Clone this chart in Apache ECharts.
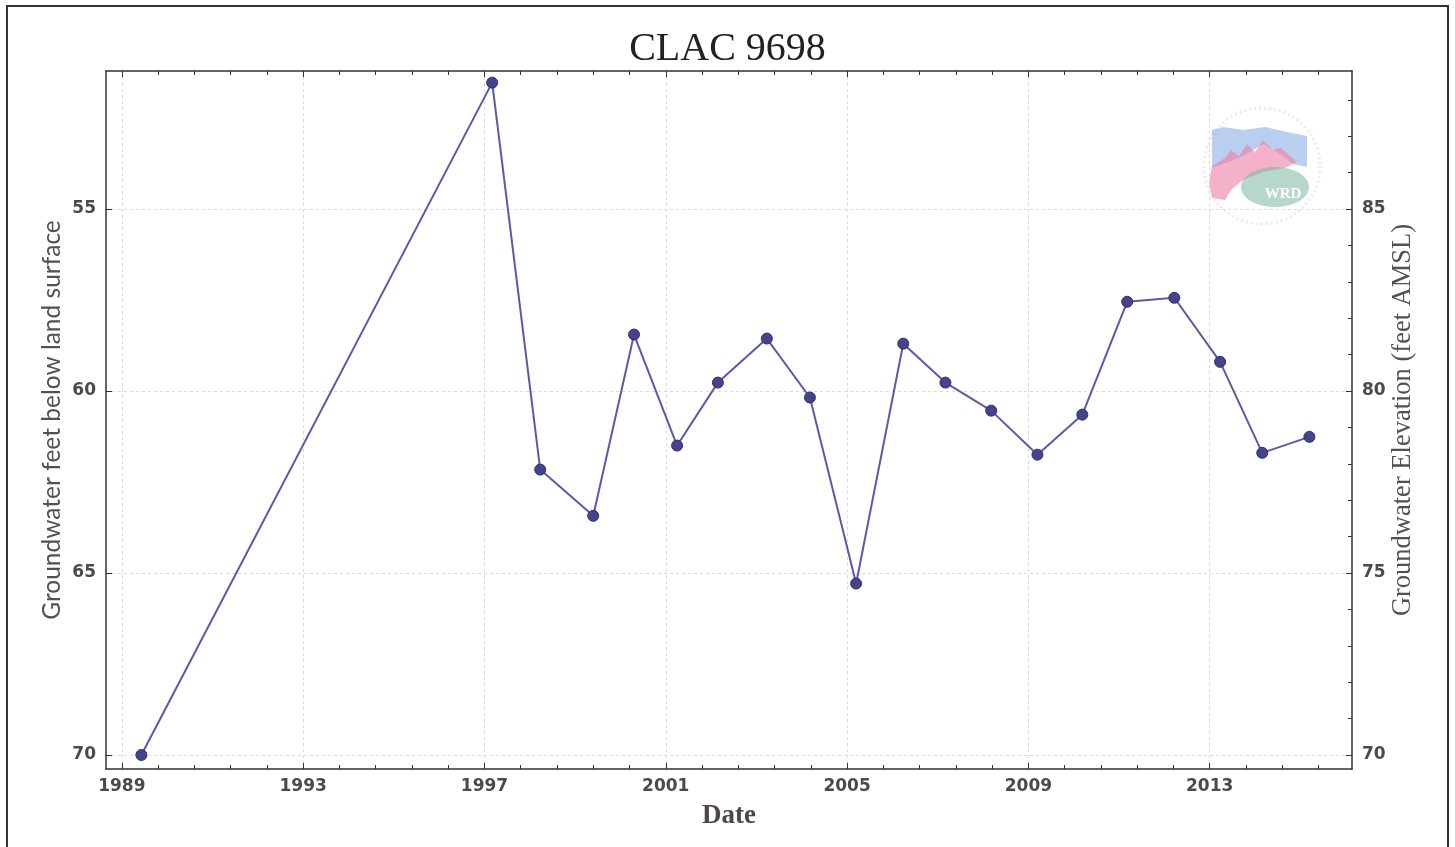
<!DOCTYPE html>
<html>
<head>
<meta charset="utf-8">
<title>CLAC 9698</title>
<script src="https://cdn.jsdelivr.net/npm/echarts@6/dist/echarts.min.js"></script>
<style>
  html, body { margin: 0; padding: 0; background: #ffffff; }
  #chart { width: 1455px; height: 847px; }
</style>
</head>
<body>
<div id="chart"></div>
<script>
// Measurement dates (decimal years) and depth to water (feet below land surface)
const measureDates = [1989.43, 1997.17, 1998.23, 1999.40, 2000.30, 2001.25, 2002.15, 2003.23, 2004.18, 2005.20,
                      2006.24, 2007.17, 2008.18, 2009.20, 2010.19, 2011.18, 2012.22, 2013.23, 2014.16, 2015.20];
const depthFeet    = [70.00, 51.53, 62.16, 63.43, 58.45, 61.50, 59.77, 58.56, 60.18, 65.29,
                      58.70, 59.77, 60.54, 61.75, 60.65, 57.55, 57.44, 59.20, 61.70, 61.26];

// Land surface elevation: elevation = landSurface - depth
const landSurface = 140;

// Axis tick labels
const yearTicks   = [1989, 1993, 1997, 2001, 2005, 2009, 2013];
const depthTicks  = [55, 60, 65, 70];
const elevTicks   = [70, 75, 80, 85];

// Axis extents
const dateMin = 1988.65, dateMax = 2016.14;
const depthMin = 51.21, depthMax = 70.385;

// Minor ticks: five divisions per four-year span, one foot on the elevation axis
const yearMinor = [];
for (let i = 0; i <= 34; i++) yearMinor.push(+(1989 + i * 0.8).toFixed(2));
const elevMinor = [];
for (let v = 70; v <= 88; v++) elevMinor.push(v);

const points = measureDates.map((d, i) => [d, depthFeet[i]]);

const tickFont = { fontFamily: 'DejaVu Sans', fontSize: 17, fontWeight: 'bold', color: '#4a4a4a' };
const frameLine = { show: true, lineStyle: { color: '#333333', width: 1.5 } };
const gridLine = { show: true, lineStyle: { color: '#dadada', type: [3, 3], width: 1 } };

function tickAxis(values, len) {
  return { show: true, inside: true, length: len, customValues: values, lineStyle: { color: '#333333', width: 1 } };
}

const chart = echarts.init(document.getElementById('chart'), null, { renderer: 'canvas' });

chart.setOption({
  backgroundColor: '#ffffff',
  animation: false,
  title: {
    text: 'CLAC 9698',
    left: 'center',
    top: 29,
    padding: 0,
    textStyle: { fontFamily: 'Liberation Serif', fontSize: 40, fontWeight: 'normal', color: '#222222' }
  },
  grid: { left: 106, right: 103, top: 71, bottom: 78, containLabel: false },
  xAxis: [
    {
      type: 'value', position: 'bottom', min: dateMin, max: dateMax,
      name: 'Date', nameLocation: 'middle', nameGap: 34, nameMoveOverlap: false,
      nameTextStyle: { fontFamily: 'Liberation Serif', fontSize: 27, fontWeight: 'bold', color: '#4e4545' },
      axisLine: frameLine,
      axisTick: tickAxis(yearTicks, 6),
      axisLabel: Object.assign({ customValues: yearTicks, margin: 9, formatter: v => String(v) }, tickFont),
      splitLine: gridLine
    },
    {
      type: 'value', position: 'bottom', min: dateMin, max: dateMax,
      axisLine: { show: false }, axisTick: tickAxis(yearMinor, 4),
      axisLabel: { show: false }, splitLine: { show: false }
    },
    {
      type: 'value', position: 'top', min: dateMin, max: dateMax,
      axisLine: frameLine, axisTick: tickAxis(yearTicks, 6),
      axisLabel: { show: false }, splitLine: { show: false }
    },
    {
      type: 'value', position: 'top', min: dateMin, max: dateMax,
      axisLine: { show: false }, axisTick: tickAxis(yearMinor, 4),
      axisLabel: { show: false }, splitLine: { show: false }
    }
  ],
  yAxis: [
    {
      type: 'value', position: 'left', inverse: true, min: depthMin, max: depthMax,
      name: 'Groundwater feet below land surface', nameLocation: 'middle', nameGap: 41, nameMoveOverlap: false,
      nameTextStyle: { fontFamily: 'Lato', fontSize: 24.5, color: '#555050' },
      axisLine: frameLine,
      axisTick: tickAxis(depthTicks, 6),
      axisLabel: Object.assign({ customValues: depthTicks, margin: 10 }, tickFont),
      splitLine: gridLine
    },
    {
      type: 'value', position: 'right', min: landSurface - depthMax, max: landSurface - depthMin,
      name: 'Groundwater Elevation (feet AMSL)', nameLocation: 'middle', nameGap: 38, nameMoveOverlap: false,
      nameTextStyle: { fontFamily: 'Liberation Serif', fontSize: 26.5, color: '#555050' },
      axisLine: frameLine,
      axisTick: tickAxis(elevTicks, 6),
      axisLabel: Object.assign({ customValues: elevTicks, margin: 10 }, tickFont),
      splitLine: { show: false }
    },
    {
      type: 'value', position: 'right', min: landSurface - depthMax, max: landSurface - depthMin,
      axisLine: { show: false }, axisTick: tickAxis(elevMinor, 4),
      axisLabel: { show: false }, splitLine: { show: false }
    }
  ],
  series: [
    {
      type: 'line',
      xAxisIndex: 0,
      yAxisIndex: 0,
      data: points,
      symbol: 'circle',
      symbolSize: 11,
      lineStyle: { color: '#5d58a8', width: 2 },
      itemStyle: { color: '#44438c', borderColor: '#2f2f6c', borderWidth: 1 },
      z: 5
    }
  ],
  graphic: [
    // outer frame
    {
      type: 'rect', z: 100, silent: true,
      shape: { x: 7, y: 6, width: 1441, height: 860 },
      style: { fill: 'none', stroke: '#333333', lineWidth: 2 }
    },
    // agency emblem
    {
      type: 'group', x: 1203, y: 100, z: 1, silent: true,
      children: [
        { type: 'circle', shape: { cx: 59, cy: 66, r: 58 }, style: { fill: 'none', stroke: 'rgba(190,150,160,0.22)', lineWidth: 3, lineDash: [2, 3] } },
        { type: 'polygon', shape: { points: [[9, 30], [20, 27], [40, 30], [62, 27], [84, 32], [104, 36], [104, 67], [90, 64], [74, 52], [60, 44], [44, 54], [26, 62], [9, 68]] },
          style: { fill: 'rgba(130,165,228,0.55)' } },
        { type: 'polygon', shape: { points: [[9, 66], [22, 58], [28, 50], [36, 56], [44, 44], [52, 52], [60, 40], [70, 50], [78, 48], [94, 62], [82, 68], [60, 72], [40, 80], [28, 90], [22, 100], [9, 98], [6, 82]] },
          style: { fill: 'rgba(236,130,168,0.62)' } },
        { type: 'ellipse', shape: { cx: 72, cy: 87, rx: 34, ry: 20 }, style: { fill: 'rgba(125,182,160,0.55)' } },
        { type: 'text', x: 80, y: 94, style: { text: 'WRD', fontFamily: 'Liberation Serif', fontWeight: 'bold', fontSize: 15, fill: '#ffffff', align: 'center', verticalAlign: 'middle' } }
      ]
    }
  ]
});
</script>
</body>
</html>
